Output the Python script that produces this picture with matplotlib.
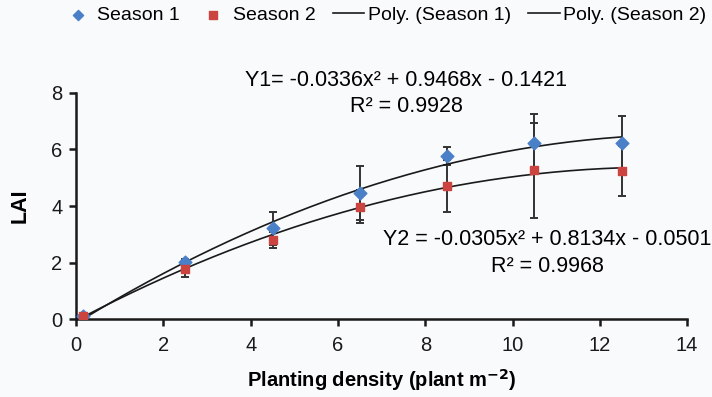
import numpy as np
import matplotlib.pyplot as plt

plt.rcParams['font.family'] = ['Liberation Sans', 'DejaVu Sans']

density = [0.15, 2.5, 4.5, 6.5, 8.5, 10.5, 12.5]
lai_s1 = [0.12, 2.03, 3.22, 4.45, 5.77, 6.22, 6.24]
lai_s2 = [0.12, 1.79, 2.80, 3.98, 4.72, 5.27, 5.24]
err_s1 = [0.05, 0.10, 0.58, 0.95, 0.33, 1.03, 0.96]
err_s2 = [0.05, 0.31, 0.28, 0.57, 0.92, 1.68, 0.87]

# trendline coefficients printed on the chart (a, b, c for ax^2 + bx + c)
coef_s1 = [-0.0336, 0.9468, -0.1421]
coef_s2 = [-0.0305, 0.8134, -0.0501]

bg = '#f9fafc'
fig = plt.figure(figsize=(7.12, 3.97), dpi=100, facecolor=bg)
ax = fig.add_axes([0.107, 0.196, 0.858, 0.57], facecolor=bg)

xs = np.linspace(density[0], density[-1], 200)
l1, = ax.plot(xs, np.polyval(coef_s1, xs), color='#1a1a1a', lw=1.2, zorder=3)
l2, = ax.plot(xs, np.polyval(coef_s2, xs), color='#1a1a1a', lw=1.2, zorder=3)

ax.errorbar(density, lai_s1, yerr=err_s1, fmt='none', ecolor='#333333',
            elinewidth=1.4, capsize=3, capthick=1.4, zorder=2)
ax.errorbar(density, lai_s2, yerr=err_s2, fmt='none', ecolor='#333333',
            elinewidth=1.4, capsize=3, capthick=1.4, zorder=2)
m1 = ax.scatter(density, lai_s1, marker='D', s=42, color='#4a80c8', zorder=4)
m2 = ax.scatter(density, lai_s2, marker='s', s=40, color='#cc4440', zorder=4)

ax.set_xlim(0, 14)
ax.set_ylim(0, 8)
ax.set_xticks(range(0, 15, 2))
ax.set_yticks(range(0, 9, 2))
for s in ['top', 'right']:
    ax.spines[s].set_visible(False)
for s in ['left', 'bottom']:
    ax.spines[s].set_linewidth(1.8)
    ax.spines[s].set_color('#1a1a1a')
ax.tick_params(direction='out', length=5, width=1.8, labelsize=14.5,
               colors='#1a1a1a', pad=5)
ax.tick_params(axis='x', pad=7)

ax.set_ylabel('LAI', fontsize=15.5, fontweight='bold', labelpad=15)
ax.set_xlabel('Planting density (plant m$^{\\mathbf{-2}}$)', fontsize=14.5,
              fontweight='bold', labelpad=9)

ax.text(7.56, 8.43, 'Y1= -0.0336x² + 0.9468x - 0.1421', fontsize=15.5,
        ha='center', va='center')
ax.text(7.56, 7.52, 'R² = 0.9928', fontsize=15.5, ha='center', va='center')
ax.text(10.79, 2.8, 'Y2 = -0.0305x² + 0.8134x - 0.0501', fontsize=15.5,
        ha='center', va='center')
ax.text(10.79, 1.85, 'R² = 0.9968', fontsize=15.5, ha='center', va='center')
for t in ax.texts:
    t.set_clip_on(False)

fig.legend([m1, m2, l1, l2],
           ['Season 1', 'Season 2', 'Poly. (Season 1)', 'Poly. (Season 2)'],
           loc='center', bbox_to_anchor=(0.54, 0.962), ncol=4, frameon=False,
           fontsize=14, handlelength=1.6, handletextpad=0.2,
           columnspacing=0.9, markerscale=0.8)

fig.savefig('out.png', dpi=100, facecolor=bg)
